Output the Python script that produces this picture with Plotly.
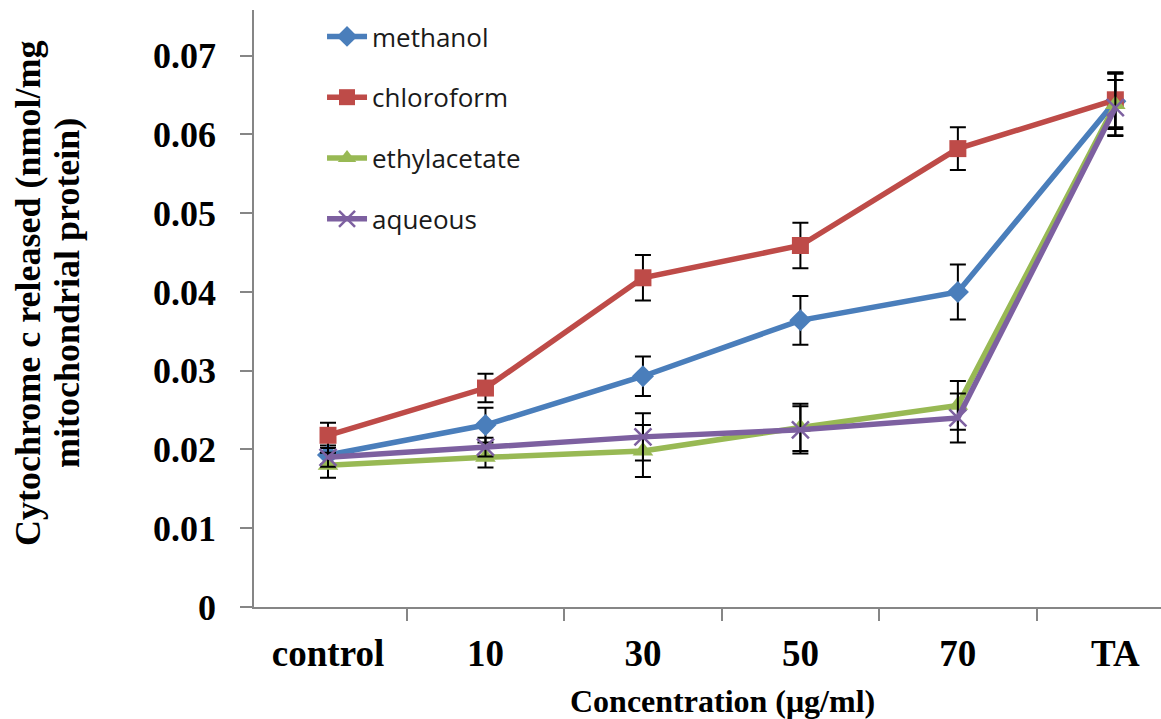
import plotly.graph_objects as go

categories = ["control", "10", "30", "50", "70", "TA"]

methanol = [0.0193, 0.0231, 0.0293, 0.0364, 0.0400, 0.0642]
methanol_err = [0.0012, 0.0022, 0.0025, 0.0031, 0.0035, 0.0035]

chloroform = [0.0218, 0.0278, 0.0418, 0.0459, 0.0582, 0.0644]
chloroform_err = [0.0016, 0.0018, 0.0029, 0.0029, 0.0027, 0.0035]

ethylacetate = [0.0180, 0.0190, 0.0198, 0.0228, 0.0256, 0.0638]
ethylacetate_err = [0.0016, 0.0013, 0.0033, 0.0030, 0.0031, 0.0040]

aqueous = [0.0190, 0.0203, 0.0216, 0.0225, 0.0240, 0.0634]
aqueous_err = [0.0012, 0.0012, 0.0030, 0.0030, 0.0031, 0.0035]

y_title_lines = ["Cytochrome c released (nmol/mg", "mitochondrial protein)"]
x_title = "Concentration (μg/ml)"

series = [
    ("methanol", methanol, methanol_err, "#4A7EBB", "diamond", 17),
    ("chloroform", chloroform, chloroform_err, "#BE4B48", "square", 17),
    ("ethylacetate", ethylacetate, ethylacetate_err, "#98B954", "triangle-up", 18),
    ("aqueous", aqueous, aqueous_err, "#7D60A0", "x-thin-open", 17),
]

fig = go.Figure()
for name, vals, errs, color, sym, size in series:
    marker = dict(symbol=sym, size=size, color=color)
    if sym == "x-thin-open":
        marker["line"] = dict(color=color, width=2.5)
    fig.add_trace(go.Scatter(
        x=categories, y=vals, name=name, mode="lines+markers",
        line=dict(color=color, width=5.5),
        marker=marker,
        legendgroup=name,
        error_y=dict(type="data", array=errs, visible=True,
                     color="#000000", thickness=2, width=8),
    ))

fig.update_layout(
    width=1161, height=719,
    margin=dict(l=254, r=0, t=10, b=112),
    paper_bgcolor="white", plot_bgcolor="white",
    showlegend=True,
    legend=dict(x=0.075, y=0.995, xanchor="left", yanchor="top",
                font=dict(family="Open Sans", size=26, color="#1a1a1a"),
                tracegroupgap=24, bgcolor="rgba(0,0,0,0)", itemwidth=40),
    xaxis=dict(
        type="category", range=[-0.47, 5.29],
        showline=True, linecolor="#868686", linewidth=1.5,
        ticks="outside", tickson="boundaries", ticklen=12, tickcolor="#868686",
        tickwidth=1.5, showgrid=False, zeroline=False, ticklabelstandoff=13,
        tickfont=dict(family="Liberation Serif", size=37, color="#000000"),
    ),
    yaxis=dict(
        range=[0, 0.0758], dtick=0.01, tick0=0,
        showline=True, linecolor="#868686", linewidth=1.5,
        ticks="outside", ticklen=12, tickcolor="#868686", tickwidth=1.5,
        showgrid=False, zeroline=False, ticklabelstandoff=17,
        tickfont=dict(family="Liberation Serif", size=36, color="#000000"),
    ),
    font=dict(family="Liberation Serif"),
)

fig.add_annotation(
    text="<b>" + x_title + "</b>", xref="paper", yref="paper",
    x=(722 - 254) / 907, y=-0.157, xanchor="center", yanchor="middle",
    showarrow=False, font=dict(family="Liberation Serif", size=32, color="#000000"),
)
for line_text, cx in zip(y_title_lines, [28, 67]):
    fig.add_annotation(
        text="<b>" + line_text + "</b>",
        xref="paper", yref="paper", x=(cx - 254) / 907, y=0.526,
        xanchor="center", yanchor="middle", textangle=-90, showarrow=False,
        font=dict(family="Liberation Serif", size=36, color="#000000"),
    )

fig.update_xaxes(tickprefix="<b>", ticksuffix="</b>")
fig.update_yaxes(tickprefix="<b>", ticksuffix="</b>")

fig.write_html("out.html")
